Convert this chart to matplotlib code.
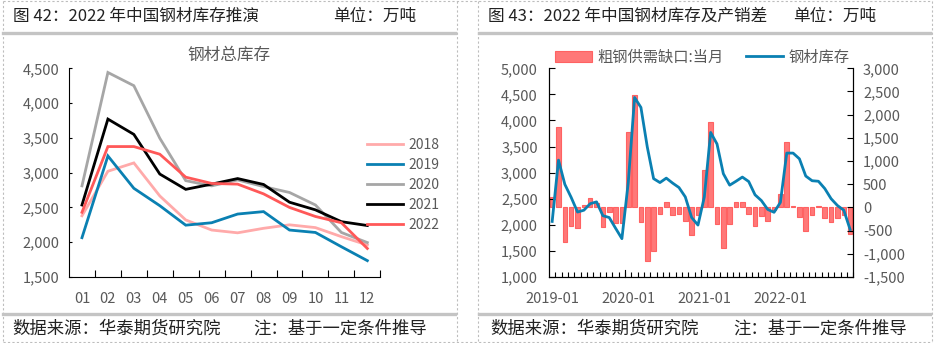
import matplotlib
matplotlib.use("Agg")
import matplotlib.pyplot as plt
from matplotlib.lines import Line2D
from matplotlib.ticker import FuncFormatter, MultipleLocator, FixedLocator
import numpy as np

plt.rcParams["font.family"] = ["Noto Sans CJK SC", "DejaVu Sans"]
plt.rcParams["axes.unicode_minus"] = False

# ---- data: 钢材总库存 by month (万吨)
months = ["01", "02", "03", "04", "05", "06", "07", "08", "09", "10", "11", "12"]
inv_2018 = [2380, 3020, 3140, 2665, 2320, 2175, 2135, 2200, 2250, 2210, 2080, 1960]
inv_2019 = [2065, 3240, 2775, 2525, 2245, 2280, 2405, 2440, 2175, 2140, 1935, 1735]
inv_2020 = [2810, 4440, 4250, 3495, 2885, 2810, 2895, 2800, 2715, 2535, 2140, 1995]
inv_2021 = [2535, 3770, 3550, 2980, 2760, 2835, 2915, 2830, 2575, 2465, 2295, 2240]
inv_2022 = [2430, 3375, 3375, 3265, 2935, 2845, 2835, 2695, 2500, 2370, 2280, 1910]
years = ["2018", "2019", "2020", "2021", "2022"]

# ---- data: 粗钢供需缺口:当月 (monthly, 2019-01 .. 2022-12)
gap_2019 = [230, 1740, -740, -400, -450, 50, 195, 100, -425, -95, -340, -345]
gap_2020 = [1630, 2430, -310, -1155, -940, -150, 125, -165, -145, -300, -600, -165]
gap_2021 = [810, 1845, -360, -885, -360, 120, 120, -145, -395, -185, -295, -55]
gap_2022 = [300, 1420, 40, -200, -510, -165, 40, -237, -315, -218, -165, -575]
date_labels = ["2019-01", "2020-01", "2021-01", "2022-01"]

W, H = 935, 343
fig = plt.figure(figsize=(W / 100, H / 100), dpi=100)


def fx(x):
    return x / W


def fy(y):
    return 1 - y / H


def hline(y, x0, x1, **kw):
    fig.add_artist(Line2D([fx(x0), fx(x1)], [fy(y), fy(y)], transform=fig.transFigure, **kw))


def vline(x, y0, y1, **kw):
    fig.add_artist(Line2D([fx(x), fx(x)], [fy(y0), fy(y1)], transform=fig.transFigure, **kw))


GRAY_TXT = "#595959"
TICK_FS = 10.5
thousands = FuncFormatter(lambda v, p: f"{int(v):,}")

# ---- frame: dashed cell borders, gray separators, header and footer text
dash = dict(color="#BDBDBD", lw=0.8, ls=(0, (2, 2)))
for x in [3, 457, 478, 932]:
    vline(x, 0.5, 342.5, **dash)
hline(1, 3, 932, **dash)
hline(342, 3, 932, **dash)
for x0, x1 in [(3, 455), (479, 930)]:
    hline(32.5, x0, x1, color="#C4C4C4", lw=2.4)
    hline(314, x0, x1, color="#C4C4C4", lw=2.4)

fig.text(fx(13), fy(16), "图 42：2022 年中国钢材库存推演", fontsize=12, va="center", color="#222222")
fig.text(fx(333), fy(16), "单位：万吨", fontsize=12, va="center", color="#222222")
fig.text(fx(488), fy(16), "图 43：2022 年中国钢材库存及产销差", fontsize=12, va="center", color="#222222")
fig.text(fx(793), fy(16), "单位：万吨", fontsize=12, va="center", color="#222222")
for x0, x1 in [(12, 253), (490, 733)]:
    fig.text(fx(x0), fy(329), "数据来源：华泰期货研究院", fontsize=12.5, va="center", color="#222222")
    fig.text(fx(x1), fy(329), "注：基于一定条件推导", fontsize=12.5, va="center", color="#222222")

# ---- left chart
ax = fig.add_axes([fx(69), fy(277), fx(380.3 - 69), (277 - 68.3) / H])
colors = ["#FFAAAA", "#0A80B2", "#A6A6A6", "#000000", "#FF5858"]
xs = np.arange(len(months))
for yr, vals, c in zip(years, [inv_2018, inv_2019, inv_2020, inv_2021, inv_2022], colors):
    ax.plot(xs, vals, color=c, lw=2.0, label=yr, solid_joinstyle="miter")
ax.set_xlim(-0.5, 11.5)
ax.set_ylim(1500, 4500)
ax.yaxis.set_major_locator(MultipleLocator(500))
ax.yaxis.set_major_formatter(thousands)
ax.set_xticks(xs)
ax.set_xticklabels(months)
ax.xaxis.set_minor_locator(FixedLocator(np.arange(0.5, 12, 1)))
ax.tick_params(axis="x", which="major", length=0, pad=11, labelsize=TICK_FS, labelcolor=GRAY_TXT)
ax.tick_params(axis="x", which="minor", direction="in", length=5, width=0.8)
ax.tick_params(axis="y", direction="in", length=2, width=0.8, pad=7, labelsize=TICK_FS, labelcolor=GRAY_TXT)
for s in ["top", "right"]:
    ax.spines[s].set_visible(False)
for s in ["left", "bottom"]:
    ax.spines[s].set_linewidth(0.8)
fig.text(fx(229), fy(55), "钢材总库存", fontsize=12, ha="center", va="center", color=GRAY_TXT)
leg = ax.legend(loc="center left", bbox_to_anchor=(fx(367), fy(185)), bbox_transform=fig.transFigure,
                frameon=False, fontsize=10, handlelength=2.6, handletextpad=0.4, labelspacing=0.42,
                borderpad=0, borderaxespad=0)
for t in leg.get_texts():
    t.set_color(GRAY_TXT)

# ---- right chart
gap = gap_2019 + gap_2020 + gap_2021 + gap_2022
inventory = inv_2019 + inv_2020 + inv_2021 + inv_2022
idx = np.arange(len(gap))

axl = fig.add_axes([fx(549), fy(277), fx(853.3 - 549), (277 - 68.3) / H])
axr = axl.twinx()
bars = axr.bar(idx, gap, width=0.72, color="#FF7878", edgecolor="#FF6262", lw=0.8, label="粗钢供需缺口:当月")
line, = axl.plot(idx, inventory, color="#0A80B2", lw=2.0, label="钢材库存")
axl.set_zorder(axr.get_zorder() + 1)
axl.patch.set_visible(False)

axl.set_xlim(-0.5, len(gap) - 0.5)
axl.set_ylim(1000, 5000)
axr.set_ylim(-1500, 3000)
for a in (axl, axr):
    a.yaxis.set_major_locator(MultipleLocator(500))
    a.yaxis.set_major_formatter(thousands)
    a.spines["top"].set_visible(False)
    for s in ["left", "right", "bottom"]:
        a.spines[s].set_linewidth(0.8)
axl.tick_params(axis="y", direction="in", length=4.5, width=0.8, pad=8, labelsize=TICK_FS, labelcolor=GRAY_TXT)
axr.tick_params(axis="y", direction="in", length=4.5, width=0.8, pad=7, labelsize=TICK_FS, labelcolor=GRAY_TXT)

axl.set_xticks([0, 12, 24, 36])
axl.set_xticklabels(date_labels)
axl.tick_params(axis="x", which="major", length=0, pad=11, labelsize=TICK_FS, labelcolor=GRAY_TXT)
axl.xaxis.set_minor_locator(FixedLocator(np.arange(0.5, len(gap), 1)))
axl.tick_params(axis="x", which="minor", direction="in", length=3.5, width=0.8)
for xb in [11.5, 23.5, 35.5]:
    axl.plot([xb, xb], [0, 0.035], transform=axl.get_xaxis_transform(), color="black", lw=0.8, clip_on=False)

leg2 = fig.legend(handles=[bars, line], loc="center left", bbox_to_anchor=(fx(555), fy(57)), ncol=2,
                  frameon=False, fontsize=11, handlelength=2.4, handletextpad=0.35, columnspacing=1.5,
                  borderpad=0, borderaxespad=0)
for t in leg2.get_texts():
    t.set_color(GRAY_TXT)

fig.savefig("out.png", dpi=100)
